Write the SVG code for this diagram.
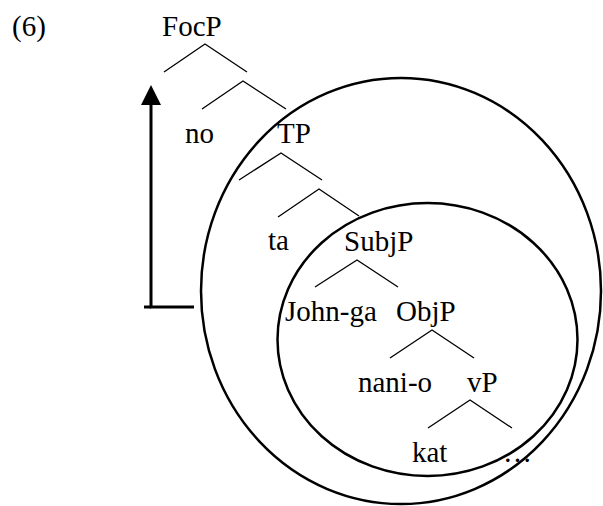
<svg xmlns="http://www.w3.org/2000/svg" width="603" height="506" viewBox="0 0 603 506">
<style>
.t{font-family:'Liberation Serif','DejaVu Serif','Times New Roman',Times,serif;font-size:29px;fill:#000}
.br{stroke:#000;stroke-width:1.3;fill:none}
.ell{stroke:#000;stroke-width:2.5;fill:none}
.arr{stroke:#000;stroke-width:3;fill:none}
</style>
<defs>
<marker id="ah" viewBox="0 0 22 20" refX="0" refY="10" markerWidth="22" markerHeight="20" markerUnits="userSpaceOnUse" orient="auto">
<path d="M0,0 L20,10 L0,20 z" fill="#000"/>
</marker>
</defs>
<rect width="603" height="506" fill="#fff"/>
<g class="t" font-family="Liberation Serif, DejaVu Serif, serif">
<g id="label"><text x="12" y="36">(6)</text></g>
</g>
<g id="ellipses">
<ellipse class="ell" cx="401" cy="291" rx="200" ry="213"/>
<ellipse class="ell" cx="427.5" cy="339.5" rx="150" ry="136.5"/>
</g>
<g id="connectors">
<path class="br" d="M164,72 L205,44 L247,72"/>
<path class="br" d="M202,109 L243,81 L286,109"/>
<path class="br" d="M239,180 L281,153 L322,180"/>
<path class="br" d="M278,217 L319,189 L359,216"/>
<path class="br" d="M315,287 L357,260 L398,287"/>
<path class="br" d="M390,358 L432,330 L474,358"/>
<path class="br" d="M428,428 L470,400 L512,428"/>
<path class="arr" d="M194,307 L151,307 L151,105" marker-end="url(#ah)"/>
<line class="arr" x1="144" y1="307" x2="151" y2="307"/>
</g>
<g class="t" font-family="Liberation Serif, DejaVu Serif, serif">
<g id="FocP"><text x="162" y="36">FocP</text></g>
<g id="no"><text x="185" y="143">no</text></g>
<g id="TP"><text x="277" y="143">TP</text></g>
<g id="ta"><text x="268" y="250">ta</text></g>
<g id="SubjP"><text x="344" y="251">SubjP</text></g>
<g id="John-ga"><text x="285" y="321">John-ga</text></g>
<g id="ObjP"><text x="396" y="321">ObjP</text></g>
<g id="nani-o"><text x="358" y="392">nani-o</text></g>
<g id="vP"><text x="467" y="392">vP</text></g>
<g id="kat"><text x="412" y="462">kat</text></g>
<g id="ellipsis"><text x="503" y="462">…</text></g>
</g>
</svg>
